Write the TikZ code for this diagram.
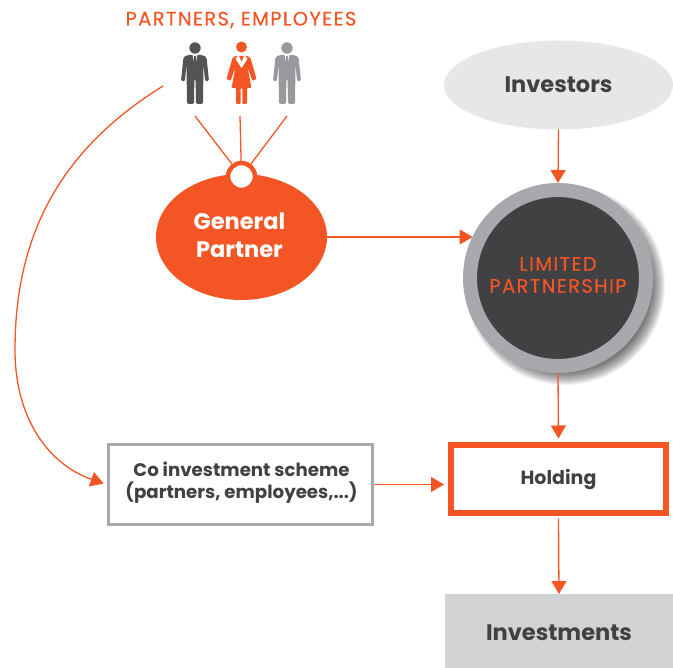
\documentclass[tikz,border=0pt]{standalone}
\usepackage{fontspec}
\setmainfont{Poppins}
\newfontfamily\spacedfont[LetterSpace=7,FakeBold=0.35]{Poppins}
\usepackage{xcolor}
\usetikzlibrary{arrows.meta,shapes.geometric}
\definecolor{orangeK}{HTML}{F35525}
\definecolor{darkK}{HTML}{414042}
\definecolor{midK}{HTML}{A7A9AC}
\definecolor{lightK}{HTML}{E6E7E8}
\definecolor{boxK}{HTML}{D1D3D4}
\tikzset{
  link/.style={draw=orangeK,line width=1.3pt,-{Triangle[length=13pt,width=15pt]}},
  spoke/.style={draw=orangeK,line width=1.3pt},
  title/.style 2 args={font=\fontsize{#1}{#2}\selectfont\bfseries,text=darkK,align=center,inner sep=0pt},
  plain/.style 2 args={font=\spacedfont\fontsize{#1}{#2}\selectfont,text=orangeK,align=center,inner sep=0pt}
}
\newcommand{\manshape}[1]{%
  \fill[#1] (0,-57) circle (5.7);
  \fill[#1,rounded corners=1.5pt] (-7,-50) -- (7,-50) -- (11.5,-48) -- (14,-24) -- (10.2,-23.5) -- (8.5,-40)
    -- (8,-1) -- (1,-1) -- (0.6,-26) -- (-0.6,-26) -- (-1,-1) -- (-8,-1) -- (-8.5,-40) -- (-10.2,-23.5)
    -- (-14,-24) -- (-11.5,-48) -- cycle;
  \fill[white] (-2.5,-50) -- (2.5,-50) -- (0,-39) -- cycle;
  \fill[#1] (-1,-49) -- (1,-49) -- (1.2,-42) -- (0,-38) -- (-1.2,-42) -- cycle;
}
\begin{document}
\begin{tikzpicture}[x=1pt,y=-1pt]
\useasboundingbox (0,0) rectangle (673,668);

% People
\node[plain={19.5}{23}] (people) at (241,20) {PARTNERS, EMPLOYEES};
\begin{scope}[shift={(195,105)}]
\manshape{darkK!90}
\end{scope}
\begin{scope}[shift={(287,105)}]
\manshape{midK!85!darkK}
\end{scope}
\begin{scope}[shift={(241.5,105)}]
\fill[orangeK] (0,-58) circle (5.5);
\fill[orangeK,rounded corners=1pt] (-6,-49) -- (6,-49) -- (9,-47) -- (15,-26) -- (11,-24) -- (6,-38)
  -- (10,-17) -- (5.5,-17) -- (5.5,-1) -- (0.8,-1) -- (0.8,-17) -- (-0.8,-17) -- (-0.8,-1) -- (-5.5,-1)
  -- (-5.5,-17) -- (-10,-17) -- (-6,-38) -- (-11,-24) -- (-15,-26) -- (-9,-47) -- cycle;
\fill[white] (-3,-50) -- (0,-43) -- (3,-50) -- (6,-46) -- (0,-37) -- (-6,-46) -- cycle;
\end{scope}
\coordinate (manA) at (195,116);
\coordinate (womanB) at (240,116);
\coordinate (manC) at (287,116);
\coordinate (curvestart) at (163,86);

% General partner
\node[ellipse,fill=orangeK,minimum width=171pt,minimum height=126pt,inner sep=0pt,outer sep=0pt] (gp) at (241.5,237) {};
\node[title={22.5}{28},text=white] (gplabel) at (239.5,235.5) {General\\Partner};
\node[circle,fill=white,draw=orangeK,line width=4.5pt,minimum size=27pt,inner sep=0pt] (ring) at (241.5,176.5) {};
\draw[spoke] (manA) -- (ring);
\draw[spoke] (womanB) -- (ring);
\draw[spoke] (manC) -- (ring);

% Limited partnership with a soft shadow
\foreach \r in {84,85,...,100}
  \fill[black,opacity=0.05] (565,285) circle (\r);
\node[circle,fill=darkK,draw=midK,line width=14pt,minimum size=176pt,inner sep=0pt] (lp) at (558,278) {};
\node[plain={19.5}{22}] (lplabel) at (558,275) {LIMITED\\PARTNERSHIP};

% Other blocks
\node[ellipse,fill=lightK,minimum width=229pt,minimum height=89pt,inner sep=0pt,outer sep=0pt,title={22.5}{26}] (inv) at (558.5,85) {Investors};
\node[draw=midK,line width=3pt,minimum width=264pt,minimum height=80pt] (co) at (240,484.5) {};
\node[title={18.2}{22}] (colabel) at (241.5,483) {Co investment scheme\\(partners, employees,...)};
\node[draw=orangeK,line width=6pt,minimum width=215pt,minimum height=68pt,title={19}{21}] (hold) at (558.5,479.5) {Holding};
\node[fill=boxK,minimum width=228pt,minimum height=74pt,outer sep=0pt] (invest) at (559,631) {};
\node[title={22.5}{26}] (investlabel) at (559,632.5) {Investments};

% Arrows
\draw[link] (inv.south) -- (lp.north);
\draw[link] (gp.east) -- (lp.154.5 |- gp.east);
\draw[link,shorten >=4pt] (lp.south) -- (hold.north);
\draw[link,shorten <=2pt] (hold.south) -- (invest.north);
\draw[link,shorten >=4pt] (co.east) -- (co.east -| hold.west);
\draw[link,shorten >=3pt] (curvestart) .. controls (60,150) and (15,235) .. (15,350)
  .. controls (15,420) and (50,465) .. (co.west);
\end{tikzpicture}
\end{document}
